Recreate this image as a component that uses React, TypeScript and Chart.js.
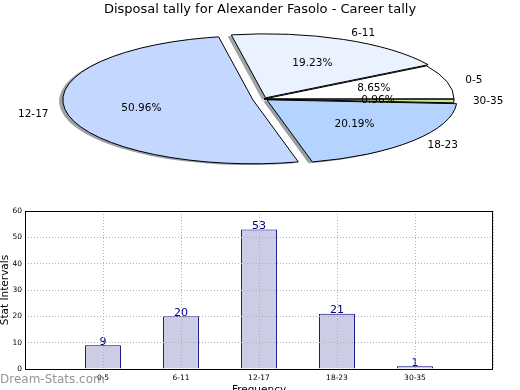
import { useEffect, useRef } from 'react';
import { Chart, ArcElement, registerables } from 'chart.js';
Chart.register(...registerables);

const titleText = 'Disposal tally for Alexander Fasolo - Career tally';
const categories = ['0-5', '6-11', '12-17', '18-23', '30-35'];
const counts = [9, 20, 53, 21, 1];
const sliceColors = ['#ffffff', '#eaf2ff', '#c4d8ff', '#b4d4ff', '#c8e68c'];
const explode = [0, 0.02, 0.06, 0.02, 0];
const yMin = 0;
const yMax = 60;
const yStep = 10;
const yTitle = 'Stat Intervals';
const xTitle = 'Frequency';
const watermark = 'Dream-Stats.com';

const FONT = '"DejaVu Sans", "Liberation Sans", sans-serif';
const PIE_R = 190;
const PIE_SY = 64 / 190;
const SHADOW_DX = -3.8;
const SHADOW_DY = 1.3;

const pieLabels = [...categories].reverse();
const pieValues = [...counts].reverse();
const pieColors = [...sliceColors].reverse();
const pieExplode = [...explode].reverse();
const total = counts.reduce((a, b) => a + b, 0);

function applyEllipse(ctx: CanvasRenderingContext2D, cx: number, cy: number) {
  ctx.translate(cx, cy);
  ctx.scale(1, PIE_SY);
  ctx.translate(-cx, -cy);
}

function shadowOf(hex: string) {
  const n = parseInt(hex.slice(1), 16);
  const r = Math.round(((n >> 16) & 255) * 0.3);
  const g = Math.round(((n >> 8) & 255) * 0.3);
  const b = Math.round((n & 255) * 0.3);
  return `rgba(${r},${g},${b},0.5)`;
}

function slicePath(ctx: CanvasRenderingContext2D, el: any, j: number) {
  const mid = (el.startAngle + el.endAngle) / 2;
  const off = pieExplode[j] * el.outerRadius;
  const ox = el.x + Math.cos(mid) * off;
  const oy = el.y + Math.sin(mid) * off;
  ctx.beginPath();
  ctx.moveTo(ox, oy);
  ctx.arc(ox, oy, el.outerRadius, el.startAngle, el.endAngle);
  ctx.closePath();
}

const piePlugin = {
  id: 'ellipsePie',
  beforeDatasetsDraw(chart: any) {
    const ctx: CanvasRenderingContext2D = chart.ctx;
    const els = chart.getDatasetMeta(0).data;
    if (!els.length) return;
    const cx = els[0].x;
    const cy = els[0].y;
    els.forEach((el: any, j: number) => {
      ctx.save();
      ctx.translate(SHADOW_DX, SHADOW_DY);
      applyEllipse(ctx, cx, cy);
      slicePath(ctx, el, j);
      ctx.fillStyle = shadowOf(pieColors[j]);
      ctx.fill();
      ctx.restore();
    });
    els.forEach((el: any, j: number) => {
      el.draw = function (c: CanvasRenderingContext2D, area: any) {
        const mid = (this.startAngle + this.endAngle) / 2;
        const off = pieExplode[j] * this.outerRadius;
        c.save();
        c.translate(Math.cos(mid) * off, Math.sin(mid) * off);
        (ArcElement.prototype as any).draw.call(this, c, area);
        c.restore();
      };
    });
    ctx.save();
    applyEllipse(ctx, cx, cy);
  },
  afterDatasetsDraw(chart: any) {
    const ctx: CanvasRenderingContext2D = chart.ctx;
    const els = chart.getDatasetMeta(0).data;
    if (!els.length) return;
    ctx.restore();
    const cx = els[0].x;
    const cy = els[0].y;
    els.forEach((el: any, j: number) => {
      ctx.save();
      applyEllipse(ctx, cx, cy);
      slicePath(ctx, el, j);
      ctx.restore();
      ctx.lineWidth = 1;
      ctx.strokeStyle = '#000000';
      ctx.lineJoin = 'round';
      ctx.stroke();
    });
  },
  afterDraw(chart: any) {
    const ctx: CanvasRenderingContext2D = chart.ctx;
    const els = chart.getDatasetMeta(0).data;
    ctx.save();
    ctx.fillStyle = '#000000';
    ctx.font = `13px ${FONT}`;
    ctx.textAlign = 'center';
    ctx.textBaseline = 'middle';
    ctx.fillText(titleText, 260, 10);
    ctx.font = `10.5px ${FONT}`;
    els.forEach((el: any, j: number) => {
      const mid = (el.startAngle + el.endAngle) / 2;
      const off = pieExplode[j] * el.outerRadius;
      const c = Math.cos(mid);
      const s = Math.sin(mid);
      const rl = off + el.outerRadius * 1.1;
      ctx.textAlign = c > 0 ? 'left' : 'right';
      ctx.textBaseline = 'middle';
      ctx.fillText(pieLabels[j], el.x + c * rl, el.y + s * rl * PIE_SY);
      const rp = off + el.outerRadius * 0.6;
      ctx.textAlign = 'center';
      const pct = ((pieValues[j] / total) * 100).toFixed(2) + '%';
      ctx.fillText(pct, el.x + c * rp, el.y + s * rp * PIE_SY);
    });
    ctx.restore();
  },
};

const barPlugin = {
  id: 'barExtras',
  afterDatasetsDraw(chart: any) {
    const ctx: CanvasRenderingContext2D = chart.ctx;
    const els = chart.getDatasetMeta(0).data;
    ctx.save();
    ctx.fillStyle = '#000080';
    ctx.font = `11px ${FONT}`;
    ctx.textAlign = 'center';
    ctx.textBaseline = 'alphabetic';
    els.forEach((el: any, i: number) => {
      ctx.fillText(String(counts[i]), el.x, el.y - 0.5);
    });
    ctx.restore();
  },
  afterDraw(chart: any) {
    const ctx: CanvasRenderingContext2D = chart.ctx;
    const a = chart.chartArea;
    ctx.save();
    ctx.strokeStyle = '#000000';
    ctx.lineWidth = 1;
    ctx.strokeRect(Math.round(a.left) + 0.5, Math.round(a.top) + 0.5, Math.round(a.right - a.left) - 1, Math.round(a.bottom - a.top));
    ctx.fillStyle = 'rgba(130,130,130,0.85)';
    ctx.font = `12px ${FONT}`;
    ctx.textAlign = 'left';
    ctx.textBaseline = 'middle';
    ctx.fillText(watermark, 0, 180);
    ctx.restore();
  },
};

export default function App() {
  const pieRef = useRef<HTMLCanvasElement>(null);
  const barRef = useRef<HTMLCanvasElement>(null);

  useEffect(() => {
    const tickFont = { family: FONT, size: 7.5 };
    const pie = new Chart(pieRef.current!, {
      type: 'pie',
      data: {
        labels: pieLabels,
        datasets: [
          {
            data: pieValues,
            backgroundColor: pieColors,
            borderWidth: 0,
            radius: PIE_R,
            clip: false,
          } as any,
        ],
      },
      options: {
        animation: false,
        responsive: false,
        devicePixelRatio: 1,
        events: [],
        rotation: 90,
        layout: { padding: { left: 8, right: 0, top: 0, bottom: 2 } },
        plugins: { legend: { display: false }, tooltip: { enabled: false }, title: { display: false } },
      } as any,
      plugins: [piePlugin],
    });

    const gridOpts = { color: '#b0b0b0', lineWidth: 1, z: 1, drawTicks: false, offset: false, borderDash: [1, 2] };
    const bar = new Chart(barRef.current!, {
      type: 'bar',
      data: {
        datasets: [
          {
            data: counts.map((v, i) => ({ x: i + 1, y: v })),
            backgroundColor: '#ccccE4',
            borderColor: '#000080',
            borderWidth: 1,
            barPercentage: 0.46,
            categoryPercentage: 1,
          },
        ],
      },
      options: {
        animation: false,
        responsive: false,
        devicePixelRatio: 1,
        events: [],
        layout: { padding: { left: 0, right: 27, top: 11, bottom: 0 } },
        plugins: { legend: { display: false }, tooltip: { enabled: false } },
        scales: {
          x: {
            type: 'linear',
            min: 0,
            max: categories.length + 1,
            offset: false,
            afterFit: (s: any) => {
              s.height = 21;
            },
            ticks: {
              stepSize: 1,
              autoSkip: false,
              maxRotation: 0,
              padding: 5,
              color: '#000000',
              font: tickFont,
              callback: (v: any) => categories[Number(v) - 1] ?? '',
            },
            grid: gridOpts,
            border: { display: false, dash: [1, 2] },
            title: {
              display: true,
              text: xTitle,
              color: '#000000',
              font: { family: FONT, size: 10.5 },
              padding: { top: 0, bottom: -7 },
            },
          },
          y: {
            min: yMin,
            max: yMax,
            afterFit: (s: any) => {
              s.width = 25;
            },
            ticks: { stepSize: yStep, padding: 3, color: '#000000', font: tickFont },
            grid: gridOpts,
            border: { display: false, dash: [1, 2] },
            title: {
              display: true,
              text: yTitle,
              color: '#000000',
              font: { family: FONT, size: 10.5 },
              padding: { top: -1, bottom: 0 },
            },
          },
        },
      } as any,
      plugins: [barPlugin],
    });

    return () => {
      pie.destroy();
      bar.destroy();
    };
  }, []);

  return (
    <div style={{ position: 'fixed', left: 0, top: 0, width: 520, height: 390, background: '#ffffff', overflow: 'hidden' }}>
      <canvas ref={pieRef} width={520} height={200} style={{ position: 'absolute', left: 0, top: 0, width: 520, height: 200 }} />
      <canvas ref={barRef} width={520} height={190} style={{ position: 'absolute', left: 0, top: 200, width: 520, height: 190 }} />
    </div>
  );
}
